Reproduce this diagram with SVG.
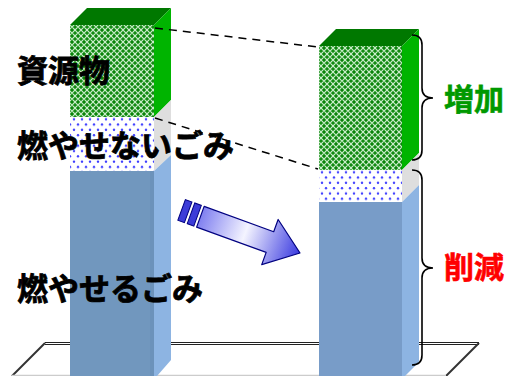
<svg xmlns="http://www.w3.org/2000/svg" width="505" height="376" viewBox="0 0 505 376">
<defs>
<pattern id="pGreen" width="6" height="6" patternUnits="userSpaceOnUse">
<rect width="6" height="6" fill="#0a840a"/>
<path d="M0,3 L3,0 L6,3 L3,6 Z" fill="none" stroke="#c8ecc8" stroke-width="1.2"/>
<rect x="2.5" y="2.5" width="1" height="1" fill="#2aa02a"/>
</pattern>
<pattern id="pDots" width="8" height="10.6" patternUnits="userSpaceOnUse">
<rect width="8" height="10.6" fill="#ffffff"/>
<circle cx="2" cy="2.6" r="1.2" fill="#3a3aff"/>
<circle cx="6" cy="7.9" r="1.2" fill="#3a3aff"/>
</pattern>
<linearGradient id="gArrow" gradientUnits="userSpaceOnUse" x1="-106" y1="0" x2="0" y2="0">
<stop offset="0" stop-color="#8080f0"/>
<stop offset="0.45" stop-color="#f4f4ff"/>
<stop offset="1" stop-color="#3a3ae0"/>
</linearGradient>
<style>
.lbl{font-family:"Noto Sans CJK JP","Noto Sans CJK SC",sans-serif;font-weight:bold;font-size:31px;fill:#000;stroke:#000;stroke-width:0.8}
.lbr{font-family:"Noto Sans CJK JP","Noto Sans CJK SC",sans-serif;font-weight:bold;font-size:30px;stroke-width:0.6}
.dash{stroke:#000;stroke-width:1.5;stroke-dasharray:8,6;fill:none}
.brace{stroke:#000;stroke-width:1.6;fill:none}
.top{fill:#007800}
.sideG{fill:#00b400}
.sideW{fill:#dedede}
.sideB{fill:#8db4e2}
</style>
</defs>
<g id="floor">
<line x1="45" y1="342.5" x2="479" y2="342.5" stroke="#222" stroke-width="1"/>
<line x1="45" y1="344.5" x2="479" y2="344.5" stroke="#222" stroke-width="1"/>
<line x1="45" y1="343" x2="12" y2="376" stroke="#333" stroke-width="2"/>
<line x1="479" y1="343" x2="446" y2="376" stroke="#333" stroke-width="2"/>
<line x1="12" y1="375.5" x2="446" y2="375.5" stroke="#ccc" stroke-width="1.5"/>
</g>
<g id="bar-before">
<polygon class="top" points="70,25 87,8 171,8 154,25"/>
<rect x="70" y="25" width="84" height="92" fill="url(#pGreen)"/>
<rect x="70" y="117" width="84" height="54" fill="url(#pDots)"/>
<rect x="70" y="171" width="84" height="205" fill="#7197be"/>
<rect x="150" y="171" width="4" height="205" fill="#6c92ba"/>
<polygon class="sideG" points="154,25 171,8 171,100 154,117"/>
<polygon class="sideW" points="154,117 171,100 171,155 154,171"/>
<polygon class="sideB" points="154,171 171,155 171,360 157,376 154,376"/>
</g>
<g id="bar-after">
<polygon class="top" points="319,46 336,29 419,29 402,46"/>
<rect x="319" y="46" width="83" height="124" fill="url(#pGreen)"/>
<rect x="319" y="170" width="83" height="32" fill="url(#pDots)"/>
<rect x="319" y="202" width="83" height="174" fill="#789cc8"/>
<polygon class="sideG" points="402,46 419,29 419,153 402,170"/>
<polygon class="sideW" points="402,170 419,153 419,185 402,202"/>
<polygon class="sideB" points="402,202 419,185 419,362 405,376 402,376"/>
</g>
<g id="connectors">
<line class="dash" x1="155" y1="28" x2="318" y2="47"/>
<line class="dash" x1="155" y1="118" x2="318" y2="169"/>
<path class="brace" d="M412,35 Q422,35 422,45 L422,88 Q422,98 433,98 Q422,98 422,108 L422,150 Q422,160 412,160"/>
<path class="brace" d="M412,170 Q422,170 422,180 L422,258 Q422,268 433,268 Q422,268 422,278 L422,355 Q422,365 412,365"/>
</g>
<g id="arrow" transform="translate(300,253) rotate(20)">
<polygon points="0,0 -32,-24 -32,-11 -106,-11 -106,11 -32,11 -32,24" fill="url(#gArrow)" stroke="#000080" stroke-width="1.2" stroke-linejoin="round"/>
<rect x="-116" y="-11" width="7" height="22" fill="#3c3cd8" stroke="#000080" stroke-width="1"/>
<rect x="-126" y="-11" width="7" height="22" fill="#3c3cd8" stroke="#000080" stroke-width="1"/>
</g>
<g id="labels">
<text class="lbl" x="17" y="82">資源物</text>
<text class="lbl" x="17" y="157">燃やせないごみ</text>
<text class="lbl" x="17" y="300">燃やせるごみ</text>
<text class="lbr" x="444" y="110" fill="#009900" stroke="#009900">増加</text>
<text class="lbr" x="444" y="278" fill="#ff0000" stroke="#ff0000">削減</text>
</g>
</svg>
